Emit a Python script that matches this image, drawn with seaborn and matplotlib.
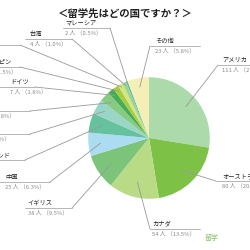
import numpy as np
import seaborn as sns
import matplotlib.pyplot as plt

# 留学先の国別人数
countries = ["アメリカ", "オーストラリア", "カナダ", "イギリス", "中国", "ニュージーランド",
             "韓国", "フランス", "ドイツ", "フィリピン", "スペイン", "台湾", "マレーシア", "その他"]
counts = [111, 80, 54, 38, 25, 21, 16, 11, 7, 6, 5, 4, 2, 23]
percents = ["27.5%", "20.0%", "13.5%", "9.5%", "6.3%", "5.3%", "4.0%", "2.8%",
            "1.8%", "1.5%", "1.3%", "1.0%", "0.5%", "5.8%"]
colors = ["#acdaaa", "#7dc246", "#b9db86", "#7cc47a", "#abdcf1", "#66c19f",
          "#99d6c6", "#86ca84", "#45ad55", "#a7cd3e", "#d5e484", "#9cd38e",
          "#5fc0a6", "#f4efb6"]

# label layout: name x, underline y (image px from top), underline x0, x1, leader end x, radius of leader point
label_pos = {
    "アメリカ": (222, 65, 218, 260, 218, 0.80),
    "オーストラリア": (222, 181, 216, 260, 216, 0.75),
    "カナダ": (152, 229, 150, 200, 150, 0.75),
    "イギリス": (28, 208, 25, 72, 72, 0.75),
    "中国": (5, 182, -5, 50, 50, 0.80),
    "ニュージーランド": (-40, 160, -40, 25, 25, 0.80),
    "韓国": (-30, 134, -30, 30, 30, 0.85),
    "フランス": (-25, 111, -25, 30, 30, 0.85),
    "ドイツ": (10, 87, -5, 35, 35, 0.90),
    "フィリピン": (-20, 67, -20, 20, 20, 0.92),
    "スペイン": (-40, 45, -40, 20, 20, 0.95),
    "台湾": (30, 39, 25, 72, 72, 0.95),
    "マレーシア": (65, 28, 63, 110, 110, 0.97),
    "その他": (155, 46, 150, 200, 150, 0.85),
}

sns.set_theme(style="white")
plt.rcParams['font.family'] = ['Noto Sans CJK JP', 'DejaVu Sans']

fig = plt.figure(figsize=(2.5, 2.5), dpi=100)
# overlay axes in image pixel coords
over = fig.add_axes([0, 0, 1, 1])
over.set_xlim(0, 250)
over.set_ylim(250, 0)
over.axis('off')

ax = fig.add_axes([0.292, 0.144, 0.608, 0.608])
wedges, _ = ax.pie(counts, colors=colors, startangle=90, counterclock=False,
                   wedgeprops=dict(linewidth=0))
ax.set_aspect('equal')

for w, name, n, p in zip(wedges, countries, counts, percents):
    tx, uy, x0, x1, lx, r = label_pos[name]
    ang = np.deg2rad((w.theta1 + w.theta2) / 2)
    over.plot([x0, x1], [uy, uy], color="#aaaaaa", lw=0.6, clip_on=False)
    over.text(tx, uy - 1, name, fontsize=4.5, color="#222222", va='bottom', ha='left')
    over.text(tx, uy + 1.5, f"{n} 人 （{p}）", fontsize=4.2, color="#8a8a8a", va='top', ha='left')
    ax.annotate("", xy=(r * np.cos(ang), r * np.sin(ang)), xycoords='data',
                xytext=(lx, 250 - uy), textcoords='figure pixels',
                arrowprops=dict(arrowstyle='-', color="#999999", lw=0.6,
                                shrinkA=0, shrinkB=0))

fig.text(0.5, 0.945, "＜留学先はどの国ですか？＞", ha='center', va='center',
         fontsize=7.5, fontweight='bold', color="#222222")
fig.text(0.82, 0.04, "留学", fontsize=5, color="#8cbf6a", ha='left')

fig.savefig("out.png", dpi=100)
